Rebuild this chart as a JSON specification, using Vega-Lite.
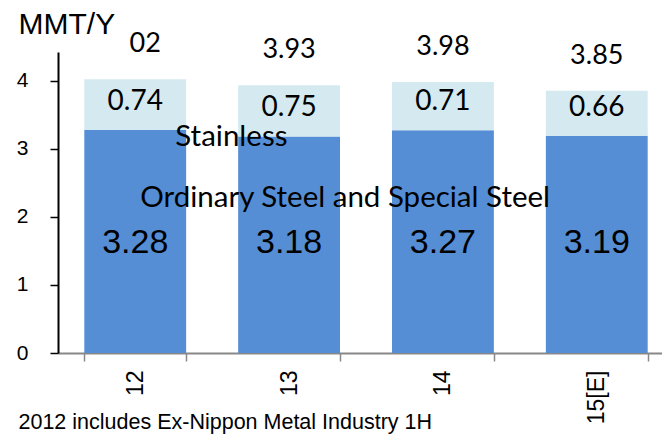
{
  "$schema": "https://vega.github.io/schema/vega-lite/v6.json",
  "width": 604,
  "height": 301,
  "autosize": {"type": "none"},
  "padding": {"top": 52, "left": 58, "right": 0, "bottom": 81},
  "background": "white",
  "config": {"view": {"stroke": null}, "axis": {"grid": false}},
  "datasets": {
    "segments": [
      {"year": "12", "segment": "Ordinary Steel and Special Steel", "value": 3.28},
      {"year": "12", "segment": "Stainless", "value": 0.74},
      {"year": "13", "segment": "Ordinary Steel and Special Steel", "value": 3.18},
      {"year": "13", "segment": "Stainless", "value": 0.75},
      {"year": "14", "segment": "Ordinary Steel and Special Steel", "value": 3.27},
      {"year": "14", "segment": "Stainless", "value": 0.71},
      {"year": "15[E]", "segment": "Ordinary Steel and Special Steel", "value": 3.19},
      {"year": "15[E]", "segment": "Stainless", "value": 0.66}
    ],
    "totals": [
      {"year": "12", "total": 4.02, "label": "02"},
      {"year": "13", "total": 3.93, "label": "3.93"},
      {"year": "14", "total": 3.98, "label": "3.98"},
      {"year": "15[E]", "total": 3.85, "label": "3.85"}
    ],
    "notes": [
      {"year": "12", "value": 3.04, "note": "Stainless"},
      {"year": "12", "value": 2.145, "note": "Ordinary Steel and Special Steel"}
    ]
  },
  "encoding": {
    "x": {
      "field": "year",
      "type": "nominal",
      "sort": ["12", "13", "14", "15[E]"],
      "scale": {"range": [0, 616], "paddingInner": 0.338, "paddingOuter": 0.171},
      "axis": {
        "title": "2012 includes Ex-Nippon Metal Industry 1H",
        "titleX": -40,
        "titleY": 75,
        "titleAlign": "left",
        "titleAnchor": "start",
        "titleBaseline": "alphabetic",
        "titleFont": "Liberation Sans",
        "titleFontSize": 21.5,
        "titleFontWeight": "normal",
        "titleColor": "black",
        "labelAngle": -90,
        "labelFont": "Liberation Sans",
        "labelFontSize": 23,
        "labelColor": "black",
        "labelPadding": 9,
        "tickBand": "extent",
        "tickColor": "#888888",
        "tickSize": 8,
        "tickWidth": 1.5,
        "domainColor": "#888888",
        "domainWidth": 2
      }
    }
  },
  "layer": [
    {
      "data": {"name": "segments"},
      "mark": {"type": "bar"},
      "encoding": {
        "y": {
          "field": "value",
          "type": "quantitative",
          "stack": "zero",
          "scale": {"domain": [0, 4.42], "nice": false},
          "axis": {
            "title": "MMT/Y",
            "titleAngle": 0,
            "titleX": -40,
            "titleY": -19,
            "titleAlign": "left",
            "titleBaseline": "alphabetic",
            "titleFont": "Liberation Sans",
            "titleFontSize": 30,
            "titleFontWeight": "normal",
            "titleColor": "black",
            "values": [0, 1, 2, 3, 4],
            "format": "d",
            "domainColor": "black",
            "domainWidth": 2,
            "tickColor": "black",
            "tickSize": 8,
            "tickWidth": 1.5,
            "labelFont": "Liberation Sans",
            "labelFontSize": 21,
            "labelColor": "black",
            "labelPadding": 22
          }
        },
        "color": {
          "field": "segment",
          "type": "nominal",
          "scale": {"domain": ["Ordinary Steel and Special Steel", "Stainless"], "range": ["#558ED5", "#D4EAF0"]},
          "legend": null
        },
        "order": {"field": "segment", "sort": "ascending"}
      }
    },
    {
      "data": {"name": "segments"},
      "transform": [
        {"stack": "value", "groupby": ["year"], "sort": [{"field": "segment", "order": "ascending"}], "as": ["v0", "v1"]},
        {"filter": "datum.segment === 'Ordinary Steel and Special Steel'"}
      ],
      "mark": {"type": "text", "font": "Liberation Sans", "fontSize": 34, "color": "black", "baseline": "middle", "align": "center", "dy": -110},
      "encoding": {
        "y": {"field": "v0", "type": "quantitative"},
        "text": {"field": "value", "type": "quantitative", "format": ".2f"}
      }
    },
    {
      "data": {"name": "segments"},
      "transform": [
        {"stack": "value", "groupby": ["year"], "sort": [{"field": "segment", "order": "ascending"}], "as": ["v0", "v1"]},
        {"filter": "datum.segment === 'Stainless'"}
      ],
      "mark": {"type": "text", "font": "Lato", "fontSize": 28, "color": "black", "baseline": "middle", "align": "center", "dy": -28},
      "encoding": {
        "y": {"field": "v0", "type": "quantitative"},
        "text": {"field": "value", "type": "quantitative", "format": ".2f"}
      }
    },
    {
      "data": {"name": "totals"},
      "transform": [{"filter": "datum.year !== '12'"}],
      "mark": {"type": "text", "font": "Lato", "fontSize": 27, "color": "black", "baseline": "alphabetic", "align": "center", "dy": -27},
      "encoding": {
        "y": {"field": "total", "type": "quantitative"},
        "text": {"field": "label", "type": "nominal"}
      }
    },
    {
      "data": {"name": "totals"},
      "transform": [{"filter": "datum.year === '12'"}],
      "mark": {"type": "text", "font": "Lato", "fontSize": 27, "color": "black", "baseline": "alphabetic", "align": "center", "dy": -27, "dx": 10},
      "encoding": {
        "y": {"field": "total", "type": "quantitative"},
        "text": {"field": "label", "type": "nominal"}
      }
    },
    {
      "data": {"name": "notes"},
      "transform": [{"filter": "datum.note === 'Stainless'"}],
      "mark": {"type": "text", "font": "Lato", "fontSize": 29.5, "color": "black", "baseline": "alphabetic", "align": "left", "dx": 40},
      "encoding": {
        "y": {"field": "value", "type": "quantitative"},
        "text": {"field": "note", "type": "nominal"}
      }
    },
    {
      "data": {"name": "notes"},
      "transform": [{"filter": "datum.note !== 'Stainless'"}],
      "mark": {"type": "text", "font": "Lato", "fontSize": 29.5, "color": "black", "baseline": "alphabetic", "align": "left", "dx": 5},
      "encoding": {
        "y": {"field": "value", "type": "quantitative"},
        "text": {"field": "note", "type": "nominal"}
      }
    }
  ]
}
